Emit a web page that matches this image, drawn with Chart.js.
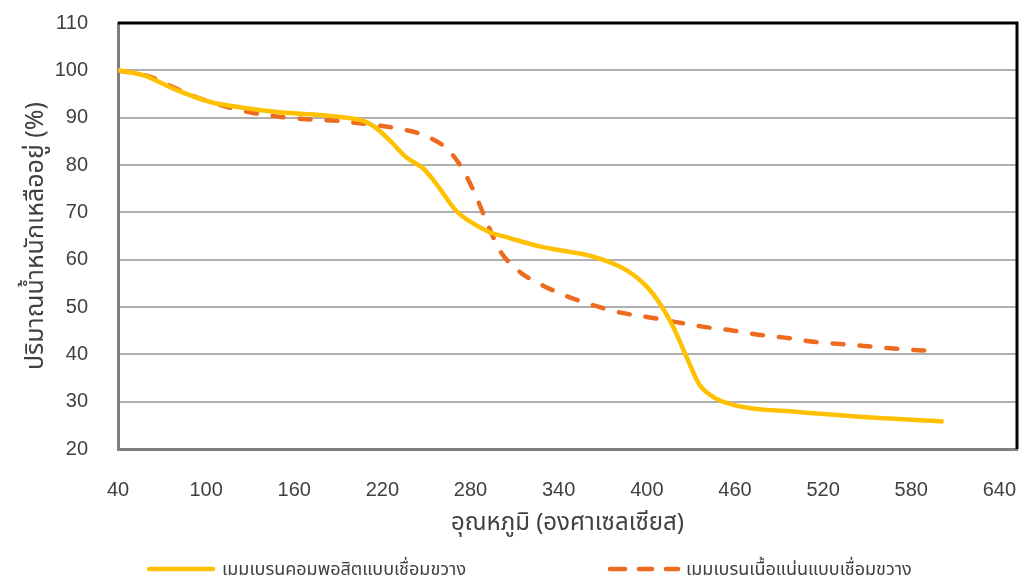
<!DOCTYPE html>
<html>
<head>
<meta charset="utf-8">
<script src="https://cdn.jsdelivr.net/npm/chart.js@4.4.1/dist/chart.umd.min.js"></script>
<style>
  html, body { margin: 0; padding: 0; background: #fff; }
  #wrap { width: 1022px; height: 580px; }
</style>
</head>
<body>
<div id="wrap"><canvas id="tga" width="1022" height="580"></canvas></div>
<script>
// temperatures (°C) and remaining weight (%)
var compositeTemp = [40, 57, 80, 103, 125, 148, 171, 193, 207, 214, 225, 236, 248, 255, 260, 270, 282, 293, 304, 327, 341, 363, 386, 400, 409, 418, 427, 436, 447, 465, 499, 545, 602];
var compositeWeight = [100, 99, 95.8, 93.3, 92.1, 91.2, 90.7, 90.1, 89.3, 88.2, 85.2, 81.7, 79.2, 76.7, 74.6, 70.4, 67.6, 65.8, 64.8, 62.8, 62, 60.7, 57.8, 54.3, 50.7, 45.8, 39.5, 33.5, 30.7, 28.9, 27.9, 26.8, 25.8];

var denseTemp = [40, 62, 80, 96, 114, 132, 153, 171, 191, 210, 229, 248, 264, 275, 284, 292, 300, 314, 327, 343, 363, 384, 402, 420, 439, 459, 477, 497, 515, 535, 554, 573, 596];
var denseWeight = [100, 98.6, 96.1, 94, 92.3, 91, 90.1, 89.6, 89.3, 88.6, 87.8, 86.3, 83.4, 78.9, 73.2, 67.2, 61.9, 57.3, 54.9, 52.6, 50.4, 48.7, 47.8, 46.8, 45.8, 45, 44.1, 43.4, 42.6, 42.1, 41.6, 41.1, 40.7];

var xTicks = [40, 100, 160, 220, 280, 340, 400, 460, 520, 580, 640];
var yTicks = [20, 30, 40, 50, 60, 70, 80, 90, 100, 110];

var seriesNames = ["เมมเบรนคอมพอสิตแบบเชื่อมขวาง", "เมมเบรนเนื้อแน่นแบบเชื่อมขวาง"];
var xTitle = "อุณหภูมิ (องศาเซลเซียส)";
var yTitle = "ปริมาณน้ำหนักเหลืออยู่ (%)";

var thaiFont = "Tahoma, 'Noto Sans Thai', 'DejaVu Sans', sans-serif";
var tickFont = "'Liberation Sans Narrow', 'Liberation Sans', Arial, sans-serif";

function toPoints(xs, ys) {
	return xs.map(function (x, i) { return { x: x, y: ys[i] }; });
}

function fixedTicks(values) {
	return function (scale) {
		scale.ticks = values.map(function (v) { return { value: v }; });
	};
}

// black frame on top / right, like the excel plot area
var frame = {
	id: 'frame',
	afterDatasetsDraw: function (chart) {
		var a = chart.chartArea, ctx = chart.ctx;
		ctx.save();
		ctx.strokeStyle = '#000';
		ctx.lineWidth = 3;
		ctx.beginPath();
		ctx.moveTo(a.left, a.top);
		ctx.lineTo(a.right, a.top);
		ctx.lineTo(a.right, a.bottom);
		ctx.stroke();
		ctx.restore();
	}
};

// legend drawn by hand, the two entries sit far apart
var bottomLegend = {
	id: 'bottomLegend',
	afterDraw: function (chart) {
		var ctx = chart.ctx, y = 569;
		var ds = chart.data.datasets;
		ctx.save();
		ctx.lineCap = 'round';
		ctx.lineWidth = 4.5;

		ctx.strokeStyle = ds[0].borderColor;
		ctx.beginPath(); ctx.moveTo(149, y); ctx.lineTo(213, y); ctx.stroke();

		ctx.strokeStyle = ds[1].borderColor;
		[[610, 625], [639, 652], [666, 678]].forEach(function (d) {
			ctx.beginPath(); ctx.moveTo(d[0], y); ctx.lineTo(d[1], y); ctx.stroke();
		});

		ctx.fillStyle = '#404040';
		ctx.font = "18px " + thaiFont;
		ctx.textBaseline = 'middle';
		ctx.fillText(ds[0].label, 222, y + 2);
		ctx.fillText(ds[1].label, 686, y + 2);
		ctx.restore();
	}
};

var ctx = document.getElementById('tga');
var tgaChart = new Chart(ctx, {
	type: 'line',
	data: {
		datasets: [
			{
				label: seriesNames[0],
				data: toPoints(compositeTemp, compositeWeight),
				borderColor: '#FFC000',
				borderWidth: 4.5,
				pointRadius: 0,
				cubicInterpolationMode: 'monotone',
				fill: false
			},
			{
				label: seriesNames[1],
				data: toPoints(denseTemp, denseWeight),
				borderColor: '#EE6A1F',
				borderWidth: 4.5,
				borderDash: [11, 16],
				borderCapStyle: 'round',
				pointRadius: 0,
				cubicInterpolationMode: 'monotone',
				fill: false
			}
		]
	},
	options: {
		responsive: false,
		animation: false,
		layout: { padding: { left: 0, right: 5, top: 23, bottom: 36 } },
		plugins: {
			legend: { display: false },
			tooltip: { enabled: false }
		},
		scales: {
			x: {
				type: 'linear',
				min: 40,
				max: 652,
				afterBuildTicks: fixedTicks(xTicks),
				afterFit: function (s) {
					s.height = 95;
					s.paddingLeft = 0;
					s.paddingRight = 0;
				},
				grid: { display: false, drawTicks: false },
				border: { display: true, color: '#7f7f7f', width: 3 },
				ticks: {
					padding: 29,
					color: '#404040',
					font: { family: tickFont, size: 20 },
					maxRotation: 0,
					autoSkip: false
				},
				title: {
					display: true,
					text: xTitle,
					color: '#404040',
					font: { family: thaiFont, size: 24 },
					padding: { top: 0, bottom: 4 }
				}
			},
			y: {
				min: 20,
				max: 110,
				afterBuildTicks: fixedTicks(yTicks),
				afterFit: function (s) {
					s.width = 118;
					s.paddingTop = 0;
					s.paddingBottom = 0;
				},
				grid: { color: '#b0b0b0', lineWidth: 2, drawTicks: false },
				border: { display: true, color: '#7f7f7f', width: 3 },
				ticks: {
					padding: 30,
					color: '#404040',
					font: { family: tickFont, size: 20 }
				},
				title: {
					display: true,
					text: yTitle,
					color: '#404040',
					font: { family: thaiFont, size: 25 },
					padding: { top: 23, bottom: 0 }
				}
			}
		}
	},
	plugins: [frame, bottomLegend]
});
</script>
</body>
</html>
